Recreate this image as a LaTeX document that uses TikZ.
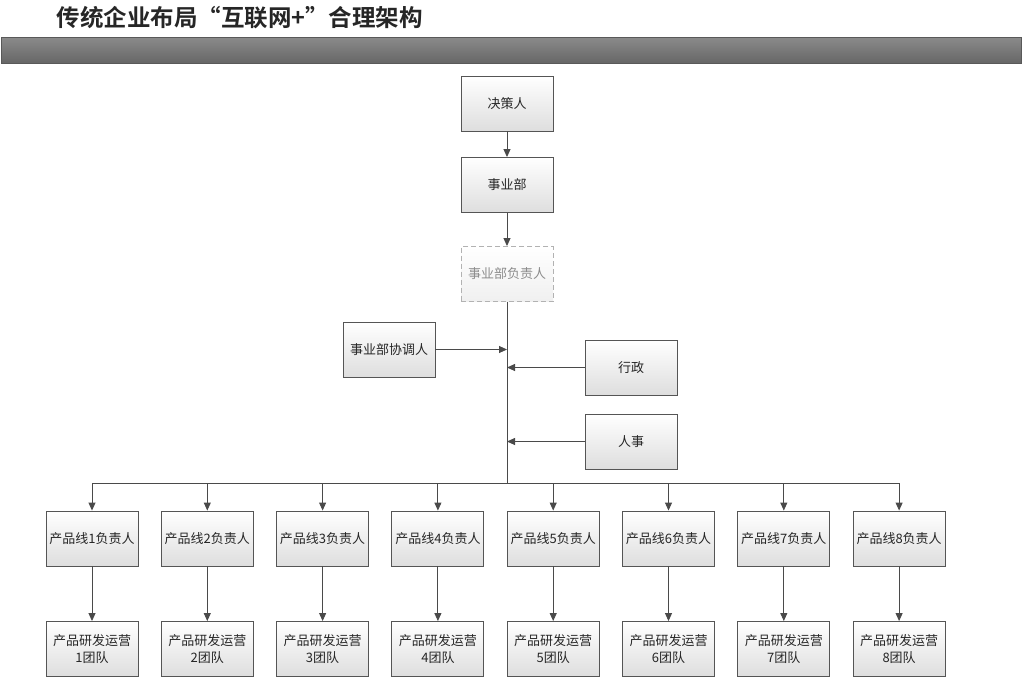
\documentclass[tikz,border=0pt]{standalone}
\usepackage{fontspec}
\setmainfont{Noto Sans CJK SC}[BoldFont={Noto Sans CJK SC Bold}]
\usetikzlibrary{arrows.meta,positioning,calc}
\definecolor{boxline}{HTML}{555555}
\definecolor{linkgray}{HTML}{4A4A4A}
\definecolor{bartop}{HTML}{8A8A8A}
\definecolor{barbot}{HTML}{666666}
\tikzset{
  >={Triangle[length=8pt,width=7pt]},
  % kastar
  box/.style={rectangle,draw=boxline,line width=0.9pt,top color=white,
              bottom color=black!13,minimum width=92pt,minimum height=55pt,
              inner sep=0pt,align=center,font=\fontsize{13}{17}\selectfont,
              text=black!85},
  ghost/.style={box,draw=black!30,dashed,dash pattern=on 5pt off 3pt,
                top color=white,bottom color=black!6,text=black!45},
  % linjer
  link/.style={->,draw=linkgray,line width=0.9pt},
  trunk/.style={draw=linkgray,line width=0.9pt},
}
\begin{document}
\begin{tikzpicture}[x=1pt,y=-1pt]
\useasboundingbox (0,0) rectangle (1024,680);
  \node[anchor=west,font=\fontsize{23.5}{26}\selectfont\bfseries,text=black!85]
    (title) at (53,17.5) {传统企业布局“互联网+”合理架构};
  \node[rectangle,draw=black!65,line width=0.9pt,top color=bartop,
        bottom color=barbot,minimum width=1020pt,minimum height=26pt,
        inner sep=0pt,anchor=north west] (bar) at (1,37) {};
  \node[box] (dec) at (507,103.5) {决策人};
  \node[box] (div) at (507,185) {事业部};
  \node[ghost] (lead) at (507,274) {事业部负责人};
  \node[box] (coord) at (389,349.5) {事业部协调人};
  \node[box] (adm) at (631,367.5) {行政};
  \node[box] (hr) at (631,441.5) {人事};
  \coordinate (bus) at (507,483);
  \draw[link] (dec) -- (div);
  \draw[link] (div) -- (lead);
  \draw[trunk] (lead.south) -- (bus);
  \draw[link] (coord.east) -- (coord.east -| lead.south);
  \draw[link] (adm.west) -- (adm.west -| lead.south);
  \draw[link] (hr.west) -- (hr.west -| lead.south);
  \foreach \i in {1,...,8} {
    \pgfmathsetmacro\cx{92+115.3*(\i-1)}
    \node[box] (pl\i) at (\cx,538.5) {产品线{\i}负责人};
    \node[box] (team\i) at (\cx,649) {产品研发运营\\{\i}团队};
    \draw[link] (pl\i.north |- bus) -- (pl\i.north);
    \draw[link] (pl\i) -- (team\i);
  }
  \draw[trunk] (pl1.north |- bus) -- (pl8.north |- bus);
\end{tikzpicture}
\end{document}
